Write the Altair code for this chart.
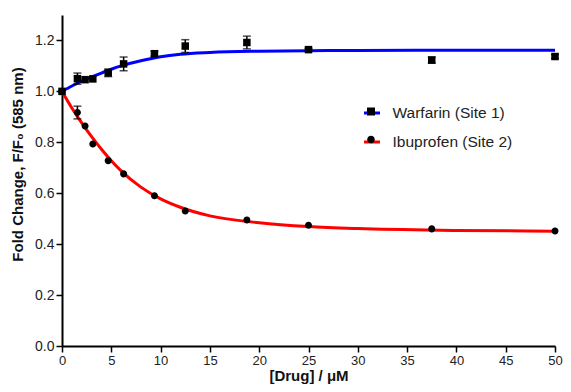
import altair as alt
import pandas as pd

# ---- data ----
series_names = ["Warfarin (Site 1)", "Ibuprofen (Site 2)"]
dose = [0, 1.5625, 2.34, 3.125, 4.6875, 6.25, 9.375, 12.5, 18.75, 25, 37.5, 50]
warfarin_mean = [1.0, 1.05, 1.046, 1.049, 1.073, 1.108, 1.148, 1.178, 1.192, 1.164, 1.123, 1.137]
warfarin_err = [0, 0.022, 0, 0, 0.015, 0.027, 0.01, 0.025, 0.025, 0.005, 0.012, 0.008]
ibuprofen_mean = [1.0, 0.917, 0.864, 0.793, 0.728, 0.676, 0.590, 0.530, 0.495, 0.474, 0.460, 0.452]
ibuprofen_err = [0, 0.025, 0, 0, 0, 0, 0, 0, 0, 0, 0, 0]

# fitted curves
fit_x = [0, 1, 2, 3, 4, 5, 6, 8, 10, 12, 15, 20, 25, 30, 40, 50]
warfarin_fit = [1.0, 1.021, 1.040, 1.057, 1.072, 1.087, 1.100, 1.120, 1.136, 1.146, 1.153, 1.158, 1.160, 1.161, 1.162, 1.162]
ibuprofen_fit = [1.0, 0.935, 0.876, 0.822, 0.773, 0.728, 0.688, 0.624, 0.578, 0.545, 0.511, 0.484, 0.469, 0.461, 0.454, 0.451]

x_ticks = [0, 5, 10, 15, 20, 25, 30, 35, 40, 45, 50]
y_ticks = [0.0, 0.2, 0.4, 0.6, 0.8, 1.0, 1.2]

pts = pd.DataFrame({
    "dose": dose * 2,
    "mean": warfarin_mean + ibuprofen_mean,
    "err": warfarin_err + ibuprofen_err,
    "series": [series_names[0]] * len(dose) + [series_names[1]] * len(dose),
})
pts["marker"] = pts["series"]
pts["lo"] = pts["mean"] - pts["err"]
pts["hi"] = pts["mean"] + pts["err"]

fit = pd.DataFrame({
    "x": fit_x * 2,
    "y": warfarin_fit + ibuprofen_fit,
    "series": [series_names[0]] * len(fit_x) + [series_names[1]] * len(fit_x),
})

FONT = "Liberation Sans"

xscale = alt.Scale(domain=[0, 50], nice=False, zero=False)
yscale = alt.Scale(domain=[0, 1.3], nice=False)

xaxis = alt.Axis(values=x_ticks, title="[Drug] / μM", grid=False, labelFlush=False,
                 labelFontSize=13, titleY=34.5, titleBaseline="alphabetic")
yaxis = alt.Axis(values=y_ticks, format=".1f", title="Fold Change, F/F₀ (585 nm)", grid=False,
                 labelFontSize=14,
                 titleX=-39.5, titleY=149, titleBaseline="alphabetic", titleAngle=270)

square_path = "M-0.5,-0.5H0.5V0.5H-0.5Z"
circle_path = "M-0.47,0A0.47,0.47 0 1,0 0.47,0A0.47,0.47 0 1,0 -0.47,0Z"

LEG_X, LEG_Y = 300.5, 88.5

lines = alt.Chart(fit).mark_line(strokeWidth=3, interpolate="monotone").encode(
    x=alt.X("x:Q", scale=xscale, axis=xaxis),
    y=alt.Y("y:Q", scale=yscale, axis=yaxis),
    color=alt.Color(
        "series:N",
        scale=alt.Scale(domain=series_names, range=["#0000ff", "#ff0000"]),
        legend=alt.Legend(
            title=None, orient="none", legendX=LEG_X, legendY=LEG_Y,
            symbolType="stroke", symbolSize=256, symbolStrokeWidth=3,
            labelFont=FONT, labelFontSize=15.5, labelColor="#222222",
            labelOffset=11, rowPadding=11, padding=0, zindex=0,
        ),
    ),
    detail="series:N",
)

errs = alt.Chart(pts).transform_filter("datum.err > 0")
err_rule = errs.mark_rule(color="black", strokeWidth=1.5).encode(
    x="dose:Q", y="lo:Q", y2="hi:Q"
)
cap_lo = errs.mark_tick(color="black", thickness=1.5, size=8, orient="horizontal").encode(
    x="dose:Q", y="lo:Q"
)
cap_hi = errs.mark_tick(color="black", thickness=1.5, size=8, orient="horizontal").encode(
    x="dose:Q", y="hi:Q"
)

points = alt.Chart(pts).mark_point(filled=True, size=225, opacity=1, color="black", strokeWidth=0).encode(
    x="dose:Q",
    y="mean:Q",
    shape=alt.Shape(
        "marker:N",
        scale=alt.Scale(domain=series_names, range=[square_path, circle_path]),
        legend=alt.Legend(
            title=None, orient="none", legendX=LEG_X + 0.5, legendY=LEG_Y,
            symbolSize=256, symbolFillColor="black", symbolStrokeWidth=0,
            labelFont=FONT, labelFontSize=15.5, labelExpr="''",
            labelOffset=11, rowPadding=11, padding=0, zindex=1,
        ),
    ),
)

chart = alt.layer(lines, err_rule, cap_lo, cap_hi, points).resolve_legend(
    color="independent", shape="independent"
).properties(
    width=493, height=331,
    autosize=alt.AutoSizeParams(type="none"),
    padding={"left": 54, "top": 7, "right": 8, "bottom": 38},
).configure_view(stroke=None).configure_axis(
    domainColor="black", domainWidth=2, tickColor="black", tickWidth=1.5, tickSize=6,
    labelFont=FONT, labelColor="#222222", labelPadding=2,
    titleFont=FONT, titleFontSize=15, titleFontWeight="bold", titleColor="#111111",
)

chart.save("out.html", embed_options={"renderer": "svg", "actions": False})
